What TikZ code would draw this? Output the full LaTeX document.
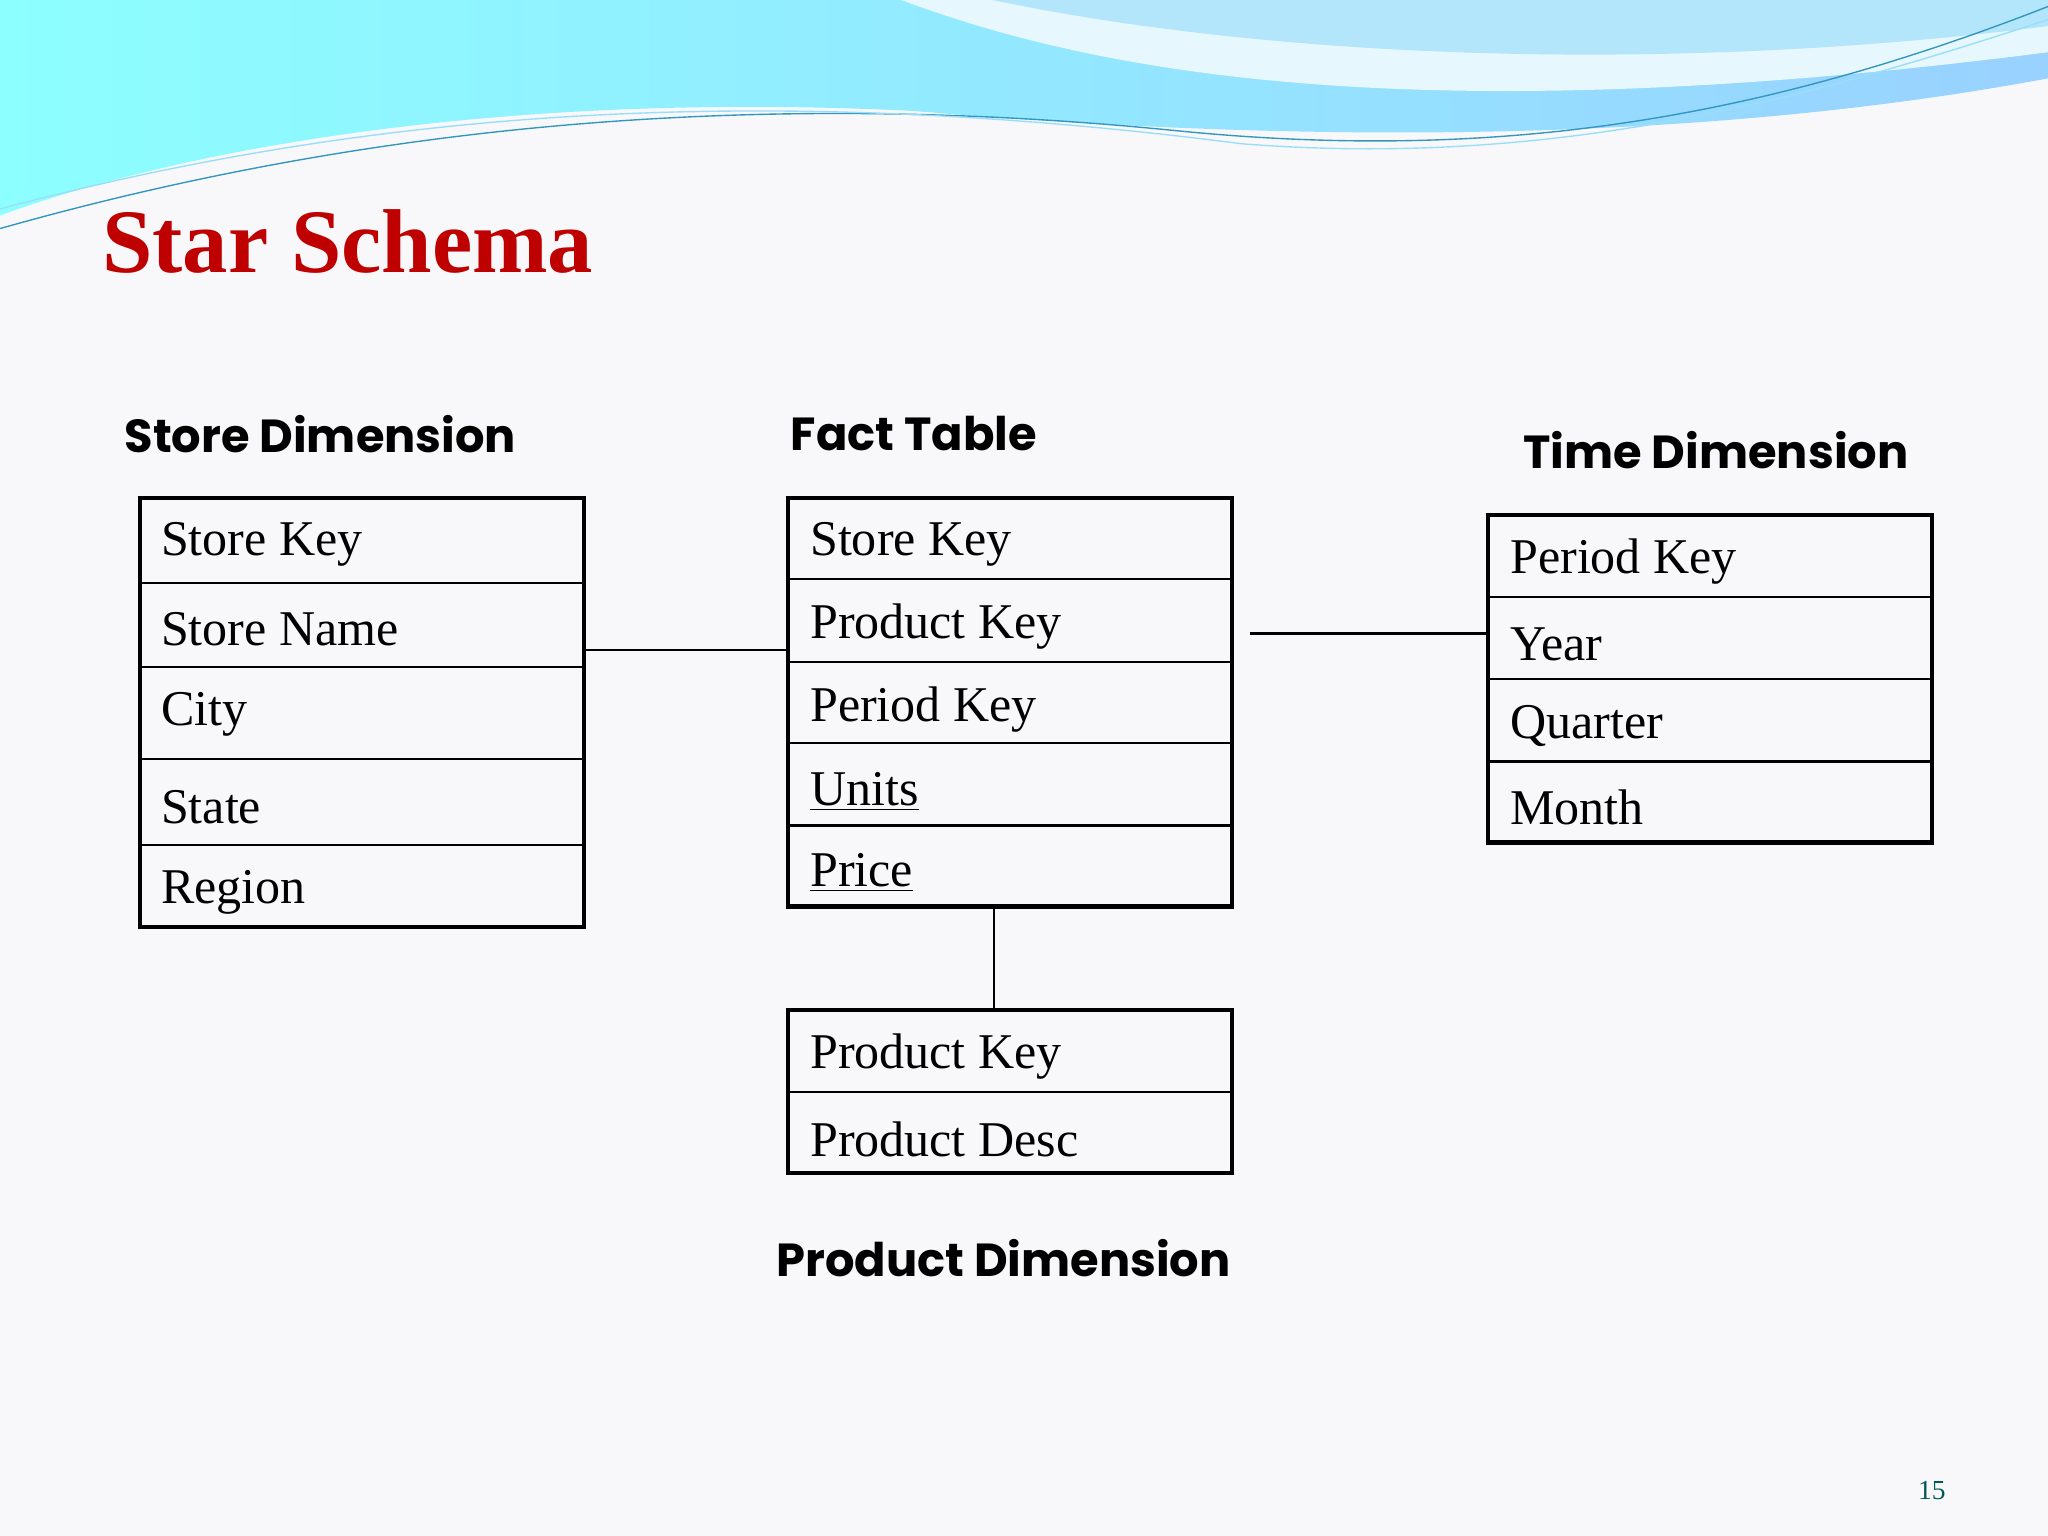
\documentclass[tikz,border=0pt]{standalone}
\usepackage{fontspec}
\setmainfont{Liberation Serif}
\newfontfamily\hdr{Poppins}
\definecolor{bgc}{RGB}{248,248,251}
\begin{document}
\begin{tikzpicture}[x=0.02cm,y=-0.02cm,
  row/.style={anchor=west,font=\fontsize{21.8}{24}\selectfont,inner sep=0pt},
  hd/.style={anchor=west,font=\hdr\bfseries\fontsize{20.2}{24}\selectfont,inner sep=0pt},
  tb/.style={line width=1.8pt},
  sep/.style={line width=0.9pt},
  con/.style={line width=0.9pt}]
\useasboundingbox (0,0) rectangle (1568,1176);
\fill[bgc] (0,0) rectangle (1568,1176);
% waves
\shade[left color=cyan!45!white, right color=cyan!55!blue!40!white]
 (0,0) -- (1568,0) -- (1568,60) .. controls (1300,110) and (1000,110) .. (700,85)
 .. controls (400,70) and (150,110) .. (0,165) -- cycle;
\fill[white!90!cyan] (690,0) .. controls (850,60) and (1100,100) .. (1568,40) -- (1568,0) -- cycle;
\fill[cyan!30!white] (760,0) .. controls (950,40) and (1250,60) .. (1568,20) -- (1568,0) -- cycle;
\draw[cyan!50!teal,line width=0.6pt] (0,175) .. controls (300,90) and (600,70) .. (900,100) .. controls (1150,125) and (1350,90) .. (1568,5);
\draw[cyan!40!white,line width=0.6pt] (0,160) .. controls (300,80) and (600,65) .. (950,110) .. controls (1200,130) and (1400,70) .. (1568,15);
% title
\node[anchor=west,inner sep=0pt,text=red!75!black,font=\bfseries\fontsize{39.5}{46}\selectfont] (title) at (78,185) {Star Schema};
% headers
\node[hd] (hs) at (95,332) {Store Dimension};
\node[hd] (hf) at (605,332) {Fact Table};
\node[hd] (ht) at (1166,345) {Time Dimension};
\node[hd] (hp) at (594,963) {Product Dimension};
% store
\draw[tb] (107,381) rectangle (447,710);
\foreach \y in {446,511,581,647} \draw[sep] (107,\y) -- (447,\y);
\node[row] (s1) at (123,417) {Store Key};
\node[row] (s2) at (123,482) {Store Name};
\node[row] (s3) at (123,547) {City};
\node[row] (s4) at (123,618) {State};
\node[row] (s5) at (123,683) {Region};
% fact
\draw[tb] (603,381) rectangle (943,694);
\foreach \y in {443,507,569,632} \draw[sep] (603,\y) -- (943,\y);
\node[row] (f1) at (620,417) {Store Key};
\node[row] (f2) at (620,480) {Product Key};
\node[row] (f3) at (620,543) {Period Key};
\node[row] (f4) at (620,606) {\underline{Units}};
\node[row] (f5) at (620,668) {\underline{Price}};
% time
\draw[tb] (1139,394) rectangle (1479,645);
\foreach \y in {457,520,583} \draw[sep] (1139,\y) -- (1479,\y);
\node[row] (t1) at (1156,430) {Period Key};
\node[row] (t2) at (1156,493) {Year};
\node[row] (t3) at (1156,556) {Quarter};
\node[row] (t4) at (1156,618) {Month};
% product
\draw[tb] (603,773) rectangle (943,898);
\draw[sep] (603,836) -- (943,836);
\node[row] (p1) at (620,809) {Product Key};
\node[row] (p2) at (620,872) {Product Desc};
% connectors
\coordinate (a1) at (448,498); \coordinate (a2) at (602,498);
\draw[con] (a1) -- (a2);
\coordinate (b1) at (957,485); \coordinate (b2) at (1138,485);
\draw[con] (b1) -- (b2);
\coordinate (c1) at (761,695); \coordinate (c2) at (761,772);
\draw[con] (c1) -- (c2);
\node[inner sep=0pt,text=teal!70!black,font=\fontsize{12}{14}\selectfont] (pg) at (1479,1141) {15};
\end{tikzpicture}
\end{document}
